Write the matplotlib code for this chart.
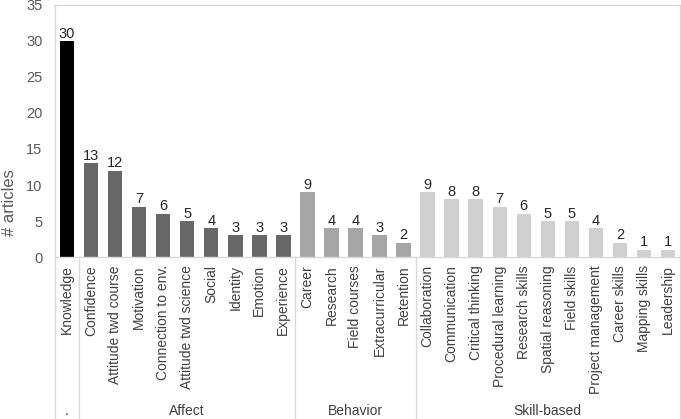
import matplotlib
matplotlib.use("Agg")
import matplotlib.pyplot as plt
from matplotlib.lines import Line2D
import matplotlib.transforms as mtransforms

plt.rcParams['font.family'] = ['Liberation Sans', 'DejaVu Sans']

categories = ["Knowledge",
              "Confidence", "Attitude twd course", "Motivation", "Connection to env.",
              "Attitude twd science", "Social", "Identity", "Emotion", "Experience",
              "Career", "Research", "Field courses", "Extracurricular", "Retention",
              "Collaboration", "Communication", "Critical thinking", "Procedural learning",
              "Research skills", "Spatial reasoning", "Field skills", "Project management",
              "Career skills", "Mapping skills", "Leadership"]
values = [30,
          13, 12, 7, 6, 5, 4, 3, 3, 3,
          9, 4, 4, 3, 2,
          9, 8, 8, 7, 6, 5, 5, 4, 2, 1, 1]
groups = [".", "Affect", "Behavior", "Skill-based"]
group_sizes = [1, 9, 5, 11]
group_colors = ["#000000", "#676767", "#a6a6a6", "#d0d0d0"]

colors = []
for c, n in zip(group_colors, group_sizes):
    colors += [c] * n

fig = plt.figure(figsize=(6.81, 4.19), dpi=100)
ax = fig.add_axes([55/681, (419-257)/419, 625/681, 252/419])

x = list(range(len(categories)))
ax.bar(x, values, width=0.6, color=colors)
for xi, v in zip(x, values):
    ax.annotate(str(v), (xi, v), xytext=(0, 2.5), textcoords="offset points",
                ha="center", va="baseline", fontsize=10.5, color="#262626")

ax.set_xlim(-0.5, len(categories) - 0.5)
ax.set_ylim(0, 35)
ax.set_yticks(range(0, 36, 5))
ax.tick_params(axis="y", length=0, pad=9, labelsize=10.5, labelcolor="#595959")
ax.set_xticks(x)
ax.set_xticklabels(categories, rotation=90, fontsize=10, color="#404040")
ax.tick_params(axis="x", length=0, pad=6)
ax.set_ylabel("# articles", fontsize=12, color="#595959")
ax.yaxis.set_label_coords((17 - 55) / 625, (257 - 203) / 252)

for s in ax.spines.values():
    s.set_color("#d9d9d9")
    s.set_linewidth(1.0)

# group separators and labels
trans = mtransforms.blended_transform_factory(ax.transData, fig.transFigure)
bounds = [-0.5]
for n in group_sizes:
    bounds.append(bounds[-1] + n)
for b in bounds:
    fig.add_artist(Line2D([b, b], [0, (419-257)/419], transform=trans,
                          color="#d9d9d9", linewidth=1.0))
start = -0.5
for g, n in zip(groups, group_sizes):
    center = start + n / 2
    fig.text(center, (419-411)/419, g, transform=trans, ha="center", va="center",
             fontsize=10, color="#404040")
    start += n

fig.savefig("out.png", dpi=100)
